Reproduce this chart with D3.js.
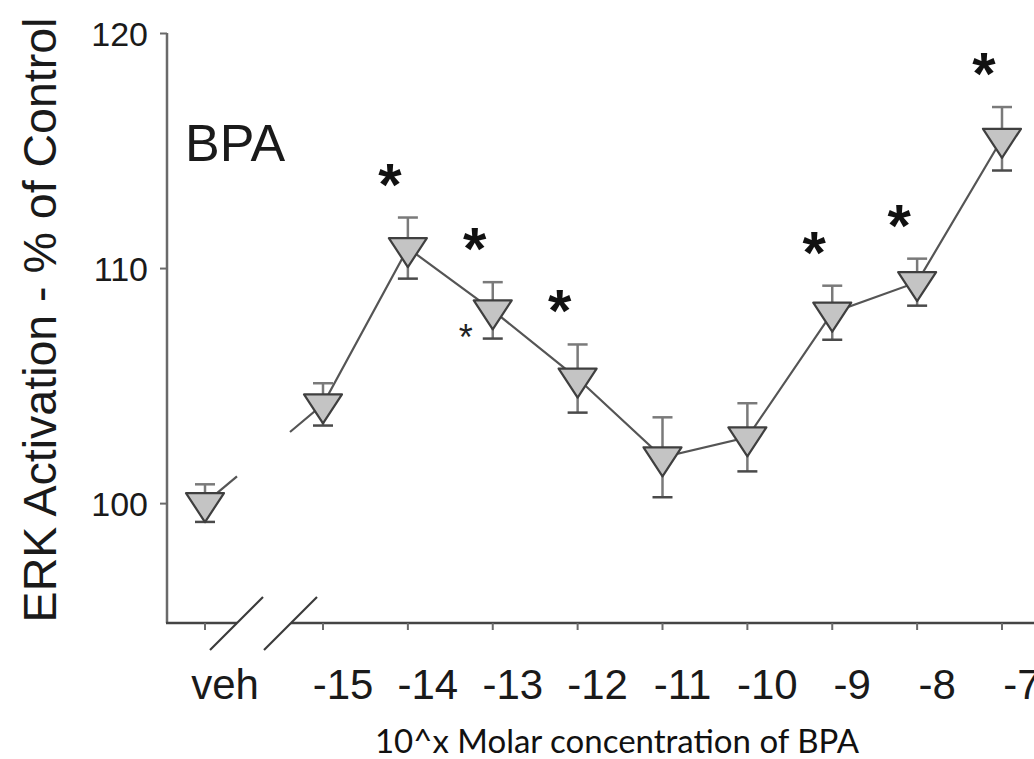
<!DOCTYPE html>
<html>
<head>
<meta charset="utf-8">
<script src="https://cdn.jsdelivr.net/npm/d3@7"></script>
<style>
  html, body { margin: 0; padding: 0; background: #fff; }
  svg { display: block; }
</style>
</head>
<body>
<svg id="chart" width="1034" height="759"></svg>
<script>
// ERK activation (% of control) across BPA concentrations
const doses     = ["veh", -15, -14, -13, -12, -11, -10, -9, -8, -7];
const doseLabels = ["veh", "-15", "-14", "-13", "-12", "-11", "-10", "-9", "-8", "-7"];
const erkMean   = [100.0, 104.2, 110.85, 108.2, 105.3, 101.95, 102.8, 108.1, 109.4, 115.5];
const erkSem    = [0.8, 0.9, 1.3, 1.2, 1.45, 1.7, 1.45, 1.15, 1.0, 1.35];
const sigMark   = [false, false, true, true, true, false, false, true, true, true];
const sigMinor  = [false, false, false, true, false, false, false, false, false, false];
const yTicks    = [100, 110, 120];

const svg = d3.select("#chart");
const W = 1034, H = 759;

// layout
const axisLeft = 167, axisBottom = 623, axisTop = 33;
const vehX = 205;                       // vehicle sits left of the axis break
const breakA = 237, breakB = 291;       // where the two break slashes cross the x axis

const xConc = d3.scaleLinear().domain([-15, -7]).range([323, 1002]);
const xPos = d => d === "veh" ? vehX : xConc(d);
const y = d3.scaleLinear().domain([94.9, 120]).range([axisBottom, axisTop]);

const axisColor = "#6a6a6a";
const sans = "Arial, 'Liberation Sans', sans-serif";

const pts = doses.map((d, i) => ({
  dose: d, label: doseLabels[i], mean: erkMean[i], sem: erkSem[i],
  sig: sigMark[i], minor: sigMinor[i], x: xPos(d), y: y(erkMean[i])
}));

// ---- y axis ----
const yAxis = d3.axisLeft(y).tickValues(yTicks).tickSize(7).tickSizeOuter(0).tickFormat(d3.format("d"));
const gy = svg.append("g").attr("transform", `translate(${axisLeft},0)`).call(yAxis);
gy.select(".domain").attr("d", `M0,${axisTop}V${axisBottom}`).attr("stroke", axisColor).attr("stroke-width", 2.5);
gy.selectAll(".tick line").attr("stroke", axisColor).attr("stroke-width", 2);
gy.selectAll(".tick text").attr("font-family", sans).attr("font-size", 34)
  .attr("fill", "#1a1a1a").attr("x", -19).attr("dy", "0.36em");

// ---- x axis (broken between vehicle and -15) ----
const gx = svg.append("g").attr("class", "x-axis");
gx.append("line").attr("x1", axisLeft - 1).attr("x2", breakA).attr("y1", axisBottom).attr("y2", axisBottom)
  .attr("stroke", "#444").attr("stroke-width", 2.5);
gx.append("line").attr("x1", breakB).attr("x2", W).attr("y1", axisBottom).attr("y2", axisBottom)
  .attr("stroke", "#444").attr("stroke-width", 2.5);
gx.selectAll("line.tick").data(pts).join("line").attr("class", "tick")
  .attr("x1", d => d.x).attr("x2", d => d.x).attr("y1", axisBottom).attr("y2", axisBottom + 7)
  .attr("stroke", axisColor).attr("stroke-width", 2);
// break slashes
[breakA, breakB].forEach(bx => {
  gx.append("line").attr("x1", bx - 27).attr("y1", axisBottom + 27).attr("x2", bx + 26).attr("y2", axisBottom - 26)
    .attr("stroke", "#3a3a3a").attr("stroke-width", 2.2);
});
gx.selectAll("text").data(pts).join("text")
  .attr("x", d => d.x + 20).attr("y", 699)
  .attr("text-anchor", "middle").attr("font-family", sans).attr("font-size", 42).attr("fill", "#1a1a1a")
  .text(d => d.label);

// ---- connecting line (interrupted across the axis break) ----
const lineColor = "#555";
const lineGen = d3.line().x(d => d.x).y(d => d.y);
const first = pts[0], second = pts[1];
const atX = xx => ({ x: xx, y: first.y + (second.y - first.y) * (xx - first.x) / (second.x - first.x) });
svg.append("path").attr("d", lineGen([first, atX(breakA)]))
  .attr("fill", "none").attr("stroke", lineColor).attr("stroke-width", 2.2);
svg.append("path").attr("d", lineGen([atX(breakB - 1), ...pts.slice(1)]))
  .attr("fill", "none").attr("stroke", lineColor).attr("stroke-width", 2.2);

// ---- error bars ----
const capW = 10;
const eb = svg.append("g");
pts.forEach(p => {
  const yt = y(p.mean + p.sem), yb = y(p.mean - p.sem);
  eb.append("line").attr("x1", p.x).attr("x2", p.x).attr("y1", yt).attr("y2", yb)
    .attr("stroke", "#7a7a7a").attr("stroke-width", 2.5);
  eb.append("line").attr("x1", p.x - capW).attr("x2", p.x + capW).attr("y1", yt).attr("y2", yt)
    .attr("stroke", "#7a7a7a").attr("stroke-width", 2.5);
  eb.append("line").attr("x1", p.x - capW).attr("x2", p.x + capW).attr("y1", yb).attr("y2", yb)
    .attr("stroke", "#4a4a4a").attr("stroke-width", 2.5);
});

// ---- downward triangle markers (centroid on the mean) ----
const tri = "M-19,-10L19,-10L0,19Z";
svg.append("g").selectAll("path").data(pts).join("path")
  .attr("transform", d => `translate(${d.x},${d.y})`).attr("d", tri)
  .attr("fill", "#c4c4c4").attr("stroke", "#3f3f3f").attr("stroke-width", 2.2).attr("stroke-linejoin", "round");

// ---- significance asterisks ----
svg.append("g").selectAll("text").data(pts.filter(p => p.sig)).join("text")
  .attr("x", p => p.x - 18).attr("y", p => y(p.mean + p.sem) - 47 + 34)
  .attr("text-anchor", "middle").attr("font-family", sans).attr("font-size", 60).attr("font-weight", "bold")
  .attr("fill", "#111")
  .text("*");
svg.append("g").selectAll("text").data(pts.filter(p => p.minor)).join("text")
  .attr("x", p => p.x - 27).attr("y", p => p.y + 20 + 20)
  .attr("text-anchor", "middle").attr("font-family", sans).attr("font-size", 36).attr("fill", "#222")
  .text("*");

// ---- panel label & axis titles ----
svg.append("text").attr("x", 185).attr("y", 161).attr("font-family", sans).attr("font-size", 52)
  .attr("fill", "#1a1a1a").text("BPA");

svg.append("text").attr("transform", "translate(56,320) rotate(-90)")
  .attr("text-anchor", "middle").attr("font-family", sans).attr("font-size", 46.5).attr("fill", "#1a1a1a")
  .text("ERK Activation - % of Control");

svg.append("text").attr("x", 617).attr("y", 753).attr("text-anchor", "middle")
  .attr("font-family", "Lato, 'Open Sans', sans-serif").attr("font-size", 33).attr("fill", "#111")
  .text("10^x Molar concentration of BPA");
</script>
</body>
</html>
